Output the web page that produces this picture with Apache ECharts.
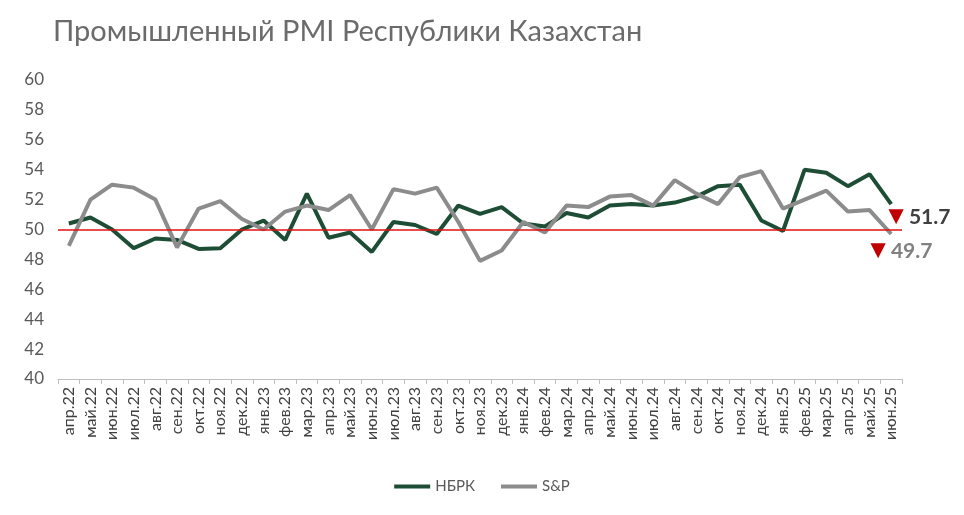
<!DOCTYPE html>
<html>
<head>
<meta charset="utf-8">
<script src="https://cdn.jsdelivr.net/npm/echarts@6/dist/echarts.min.js"></script>
<style>html,body{margin:0;padding:0;background:#fff}#main{width:964px;height:515px}</style>
</head>
<body>
<div id="main"></div>
<script>
var months = ['апр.22','май.22','июн.22','июл.22','авг.22','сен.22','окт.22','ноя.22','дек.22',
	'янв.23','фев.23','мар.23','апр.23','май.23','июн.23','июл.23','авг.23','сен.23','окт.23','ноя.23','дек.23',
	'янв.24','фев.24','мар.24','апр.24','май.24','июн.24','июл.24','авг.24','сен.24','окт.24','ноя.24','дек.24',
	'янв.25','фев.25','мар.25','апр.25','май.25','июн.25'];
var nbrk = [50.4,50.8,50.0,48.75,49.4,49.3,48.7,48.75,50.0,50.6,49.3,52.4,49.45,49.8,48.5,50.5,50.3,49.7,51.6,
	51.05,51.5,50.4,50.2,51.1,50.8,51.6,51.7,51.6,51.8,52.2,52.9,53.0,50.6,49.9,54.0,53.8,52.9,53.7,51.7];
var sp = [48.9,52.0,53.0,52.8,52.0,48.8,51.4,51.9,50.7,50.0,51.2,51.6,51.3,52.3,50.0,52.7,52.4,52.8,50.5,
	47.9,48.6,50.5,49.8,51.6,51.5,52.2,52.3,51.6,53.3,52.4,51.7,53.5,53.9,51.4,52.0,52.6,51.2,51.3,49.7];

var font = 'Lato';
function lastLabel(arr, col, pos) {
	var out = arr.slice();
	var v = arr[arr.length - 1];
	out[out.length - 1] = {
		value: v,
		label: {
			show: true,
			position: pos,
			formatter: '{t|▼}{v|' + v.toFixed(1) + '}',
			rich: {
				t: { color: '#c00000', fontSize: 26 },
				v: { color: col, fontSize: 21, fontWeight: 'bold', fontFamily: font }
			}
		}
	};
	return out;
}

var myChart = echarts.init(document.getElementById('main'));
var option = {
	animation: false,
	title: {
		text: 'Промышленный PMI Республики Казахстан',
		left: 48, top: 12,
		textStyle: { color: '#6b6b6b', fontSize: 29, fontWeight: 'normal', fontFamily: font }
	},
	legend: {
		bottom: 16, left: 'center',
		itemWidth: 36, itemHeight: 4, itemGap: 26,
		icon: 'rect',
		textStyle: { color: '#595959', fontSize: 15, fontFamily: font },
		data: ['НБРК', 'S&P']
	},
	grid: { left: 58, right: 62, top: 80, bottom: 136 },
	xAxis: {
		type: 'category',
		boundaryGap: ['1.5%', 0],
		data: months,
		axisLine: { lineStyle: { color: '#bfbfbf' } },
		axisTick: { show: true, interval: 0, lineStyle: { color: '#bfbfbf' } },
		axisLabel: { interval: 0, rotate: 90, color: '#404040', fontSize: 16, fontFamily: font }
	},
	yAxis: {
		type: 'value', min: 40, max: 60, interval: 2,
		splitLine: { show: false },
		axisLine: { show: false },
		axisLabel: { color: '#595959', fontSize: 17, fontFamily: font, margin: 14 }
	},
	series: [{
		name: 'НБРК', type: 'line', data: lastLabel(nbrk, '#404040', [-8, 0]),
		symbol: 'circle', symbolSize: 0, showSymbol: true,
		lineStyle: { color: '#1e4d35', width: 4 }, itemStyle: { color: '#1e4d35' },
		markLine: {
			silent: true, symbol: 'none', label: { show: false },
			lineStyle: { color: '#e01010', width: 1.5, type: 'solid' },
			data: [{ yAxis: 50 }]
		}
	}, {
		name: 'S&P', type: 'line', data: lastLabel(sp, '#808080', [-26, 4]),
		symbol: 'circle', symbolSize: 0, showSymbol: true,
		lineStyle: { color: '#8c8c8c', width: 4 }, itemStyle: { color: '#8c8c8c' }
	}]
};
myChart.setOption(option);
</script>
</body>
</html>
